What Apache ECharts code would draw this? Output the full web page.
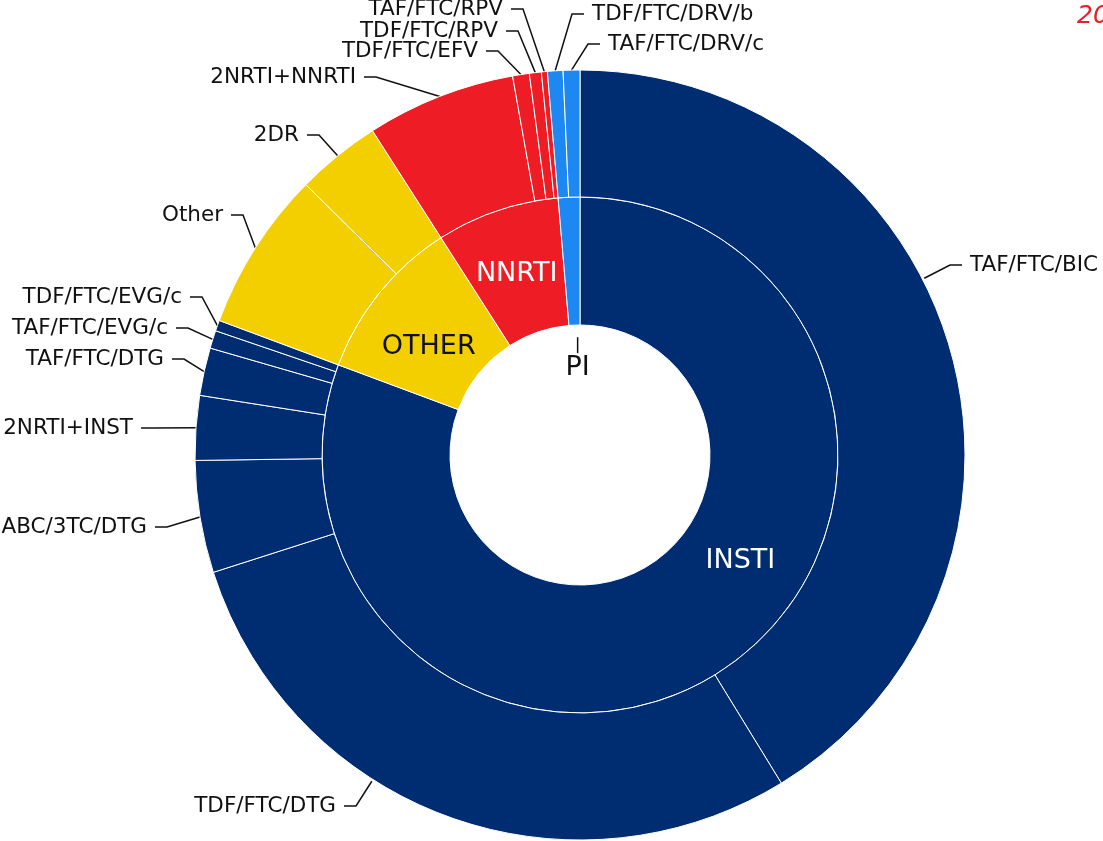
<!DOCTYPE html>
<html>
<head>
<meta charset="utf-8">
<script src="https://cdn.jsdelivr.net/npm/echarts@6/dist/echarts.min.js"></script>
<style>
  html, body { margin: 0; padding: 0; background: #fff; }
  #main { width: 1103px; height: 841px; }
</style>
</head>
<body>
<div id="main"></div>
<script>
// inner ring: drug classes (% of regimens)
var classNames = ['INSTI', 'OTHER', 'NNRTI', 'PI'];
var classValues = [80.6, 10.25, 7.7, 1.35];

// outer ring: regimens, clockwise from 12 o'clock
var regimenNames = ['TAF/FTC/BIC', 'TDF/FTC/DTG', 'ABC/3TC/DTG', '2NRTI+INST', 'TAF/FTC/DTG',
  'TAF/FTC/EVG/c', 'TDF/FTC/EVG/c', 'Other', '2DR', '2NRTI+NNRTI', 'TDF/FTC/EFV',
  'TDF/FTC/RPV', 'TAF/FTC/RPV', 'TDF/FTC/DRV/b', 'TAF/FTC/DRV/c'];
var regimenClass = ['INSTI', 'INSTI', 'INSTI', 'INSTI', 'INSTI', 'INSTI', 'INSTI',
  'OTHER', 'OTHER', 'NNRTI', 'NNRTI', 'NNRTI', 'NNRTI', 'PI', 'PI'];
var regimenValues = [41.2, 28.8, 4.7, 2.7, 2.0, 0.75, 0.45, 6.7, 3.55, 6.25, 0.7, 0.5, 0.25, 0.65, 0.7];

var classColors = { INSTI: '#002d72', OTHER: '#f3cf00', NNRTI: '#ee1c25', PI: '#1e88f2' };
var classTextColors = { INSTI: '#fff', OTHER: '#111', NNRTI: '#fff', PI: '#111' };

// ---- layout / style ----
var CX = 580, CY = 455, R_OUT = 385;
var font = 'DejaVu Sans';
// small nudges for the inner labels
var innerLabelShift = { INSTI: [48, -56], OTHER: [2, 16], NNRTI: [0, 6], PI: [6, 102] };
// where each outer label text sits: [edge x next to the leader, middle y, side]
var labelSpots = {
  'TAF/FTC/BIC':   [970, 265, 'r'],
  'TDF/FTC/DTG':   [336, 806, 'l'],
  'ABC/3TC/DTG':   [147, 527, 'l'],
  '2NRTI+INST':    [133, 428, 'l'],
  'TAF/FTC/DTG':   [164, 359, 'l'],
  'TAF/FTC/EVG/c': [168, 328, 'l'],
  'TDF/FTC/EVG/c': [182, 297, 'l'],
  'Other':         [223, 215, 'l'],
  '2DR':           [299, 135, 'l'],
  '2NRTI+NNRTI':   [356, 77, 'l'],
  'TDF/FTC/EFV':   [478, 51, 'l'],
  'TDF/FTC/RPV':   [498, 31, 'l'],
  'TAF/FTC/RPV':   [503, 9, 'l'],
  'TDF/FTC/DRV/b': [592, 14, 'r'],
  'TAF/FTC/DRV/c': [608, 44, 'r']
};
// leaders that run to the nearest point of the ring instead of the slice middle
var projectLeader = { 'TAF/FTC/BIC': true, 'TDF/FTC/DTG': true };

function outerLabelLayout(p) {
  var name = regimenNames[p.dataIndex];
  var s = labelSpots[name];
  if (!s) return {};
  var dir = s[2] === 'r' ? 1 : -1;
  var p2 = [s[0] - dir * 8, s[1]];
  var p1 = [p2[0] - dir * 12, s[1]];
  var p0;
  if (!projectLeader[name] && p.labelLinePoints && p.labelLinePoints[0]) {
    p0 = p.labelLinePoints[0];
  } else {
    var vx = p1[0] - CX, vy = p1[1] - CY, len = Math.sqrt(vx * vx + vy * vy);
    p0 = [CX + vx / len * (R_OUT + 2), CY + vy / len * (R_OUT + 2)];
  }
  return {
    x: s[0],
    y: s[1],
    align: s[2] === 'r' ? 'left' : 'right',
    verticalAlign: 'middle',
    labelLinePoints: [p0, p1, p2]
  };
}

var chart = echarts.init(document.getElementById('main'));

var option = {
  backgroundColor: '#fff',
  animation: false,
  graphic: [{
    type: 'text',
    left: 1077,
    top: 4,
    style: { text: '2020', fill: '#e8202a', font: 'italic 25px "DejaVu Sans"' }
  }],
  series: [
    {
      // 类别
      name: 'class',
      type: 'pie',
      center: [CX, CY],
      radius: [130, 258],
      startAngle: 90,
      clockwise: true,
      avoidLabelOverlap: false,
      itemStyle: { borderColor: '#fff', borderWidth: 1 },
      label: { position: 'inside', fontFamily: font, fontSize: 27 },
      labelLine: { show: false },
      labelLayout: function (p) {
        var s = innerLabelShift[classNames[p.dataIndex]];
        return s ? { dx: s[0], dy: s[1] } : {};
      },
      data: classNames.map(function (n, i) {
        var d = {
          name: n,
          value: classValues[i],
          itemStyle: { color: classColors[n] },
          label: { color: classTextColors[n] }
        };
        if (n === 'PI') {
          d.label = {
            formatter: '{bar|}\n{t|PI}',
            rich: {
              bar: { width: 1.5, height: 16, backgroundColor: '#111', align: 'center' },
              t: { fontFamily: font, fontSize: 27, color: '#111', lineHeight: 30, align: 'center' }
            }
          };
        }
        return d;
      })
    },
    {
      // 方案
      name: 'regimen',
      type: 'pie',
      center: [CX, CY],
      radius: [258, R_OUT],
      startAngle: 90,
      clockwise: true,
      avoidLabelOverlap: false,
      itemStyle: { borderColor: '#fff', borderWidth: 1 },
      label: {
        position: 'outside',
        fontFamily: font,
        fontSize: 21.5,
        color: '#111',
        overflow: 'none',
        distanceToLabelLine: 8
      },
      labelLine: {
        show: true,
        length: 20,
        length2: 12,
        lineStyle: { color: '#111', width: 1.5 }
      },
      labelLayout: outerLabelLayout,
      data: regimenNames.map(function (n, i) {
        return {
          name: n,
          value: regimenValues[i],
          itemStyle: { color: classColors[regimenClass[i]] }
        };
      })
    }
  ]
};

chart.setOption(option);
</script>
</body>
</html>
